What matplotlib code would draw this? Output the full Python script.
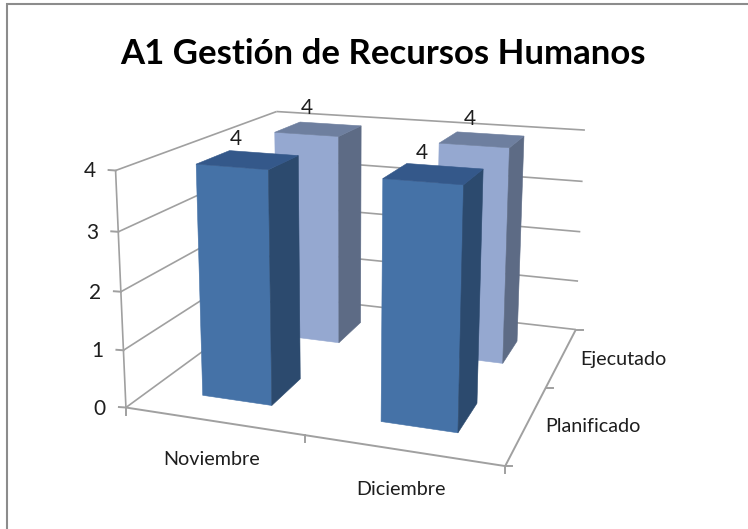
import numpy as np
import matplotlib
matplotlib.use('Agg')
import matplotlib.pyplot as plt
from matplotlib.patches import Polygon

plt.rcParams['font.family'] = ['Lato', 'DejaVu Sans']

title = 'A1 Gestión de Recursos Humanos'
months = ['Noviembre', 'Diciembre']
series = ['Planificado', 'Ejecutado']
planificado = [4, 4]
ejecutado = [4, 4]
z_ticks = [0, 1, 2, 3, 4]

# front, side, top face colors per series
face_colors = {'Planificado': ('#4572A7', '#2C4A6E', '#34588A'),
				'Ejecutado': ('#95A8D0', '#5D6B85', '#6E7F9F')}
grid_color = '#A0A0A0'
text_color = '#1E1E1E'
bar_x = (0.30, 0.70)
bar_y = (0.28, 0.67)

# camera calibration, (month pos, series pos, height) -> chart pixel
calib_world = [(0,0,0),(2,0,0),(2,2,0),(0,2,0),(0,0,4),(0,2,4),(2,2,4),
				(0.3,0.28,4),(0.7,0.28,4),(0.7,0.67,4),(1.3,0.28,4),(1.7,0.28,4),(1.7,0.67,4),
				(0.7,1.28,4),(0.7,1.67,4),(1.7,1.28,4),(1.7,1.67,4),
				(0.3,0.28,0),(0.7,0.28,0),(1.3,0.28,0),(1.7,0.28,0)]
calib_px = [(125,408),(504,466),(576,331),(280,294),(115,171),(275,112),(585,130),
				(197,164),(269,170),(299,156),(383,178),(464,184),(483,169),
				(339,137),(361,126),(509,147),(524,136),
				(203,396),(272,405),(381,421),(458,433)]

def fit_camera(world, px):
	rows = []
	for (x,y,z),(u,v) in zip(world, px):
		rows.append([x,y,z,1,0,0,0,0,-u*x,-u*y,-u*z,-u])
		rows.append([0,0,0,0,x,y,z,1,-v*x,-v*y,-v*z,-v])
	return np.linalg.svd(np.array(rows, dtype=float))[2][-1].reshape(3,4)

cam = fit_camera(calib_world, calib_px)

def project(x, y, z):
	p = cam @ np.array([x,y,z,1.0])
	return p[0]/p[2], p[1]/p[2]

def line3d(ax, a, b, lw=1.2):
	pa, pb = project(*a), project(*b)
	ax.plot([pa[0],pb[0]], [pa[1],pb[1]], color=grid_color, lw=lw, solid_capstyle='butt', zorder=1)

def draw_bar(ax, i, j, value, colors):
	x0, x1 = i+bar_x[0], i+bar_x[1]
	y0, y1 = j+bar_y[0], j+bar_y[1]
	front = [(x0,y0,0),(x1,y0,0),(x1,y0,value),(x0,y0,value)]
	side = [(x1,y0,0),(x1,y1,0),(x1,y1,value),(x1,y0,value)]
	top = [(x0,y0,value),(x1,y0,value),(x1,y1,value),(x0,y1,value)]
	for face, c in zip((front, side, top), colors):
		pts = [project(*p) for p in face]
		ax.add_patch(Polygon(pts, closed=True, fc=c, ec=c, lw=0.4, zorder=3+(1-j)*2))
	lx, ly = project((x0+x1)/2, (y0+y1)/2, value)
	ax.text(lx-12, ly-21, str(value), ha='center', va='center', fontsize=15, color=text_color, zorder=9)

fig = plt.figure(figsize=(7.48, 5.29), dpi=100)
ax = fig.add_axes([0,0,1,1])
ax.set_xlim(0,748)
ax.set_ylim(529,0)
ax.axis('off')

# the frame only shows on the top and left
ax.plot([7,7], [3,529], color='#8C8C8C', lw=1.5, solid_capstyle='butt')
ax.plot([6,748], [4,4], color='#8C8C8C', lw=1.5, solid_capstyle='butt')

# walls and floor
for z in z_ticks:
	line3d(ax, (0,0,z), (0,2,z))
	line3d(ax, (0,2,z), (2,2,z))
	p = project(0,0,z)
	ax.plot([p[0]-7,p[0]], [p[1]-0.5,p[1]], color=grid_color, lw=1.4, zorder=1)
	ax.text(p[0]-20, p[1]+1, str(z), ha='right', va='center', fontsize=15, color=text_color)
line3d(ax, (0,0,0), (0,0,4))
line3d(ax, (0,0,0), (2,0,0), lw=1.4)
line3d(ax, (2,0,0), (2,2,0), lw=1.4)

# ticks on the floor edges
for i in range(len(months)+1):
	p = project(i,0,0)
	ax.plot([p[0],p[0]], [p[1],p[1]+7], color=grid_color, lw=1.4, zorder=1)
for j in range(len(series)+1):
	p = project(2,j,0)
	ax.plot([p[0],p[0]+7], [p[1],p[1]], color=grid_color, lw=1.4, zorder=1)

# back row first so the front row covers it
for j, (name, vals) in reversed(list(enumerate(zip(series, [planificado, ejecutado])))):
	for i, v in enumerate(vals):
		draw_bar(ax, i, j, v, face_colors[name])

# category labels
for i, m in enumerate(months):
	p = project(i+0.5,0,0)
	ax.text(p[0]-1, p[1]+39, m, ha='center', va='center', fontsize=14.2, color=text_color)
for j, s in enumerate(series):
	p = project(2,j+0.5,0)
	ax.text(p[0]+18, p[1]+3, s, ha='left', va='center', fontsize=14.2, color=text_color)

ax.text(383, 54, title, ha='center', va='center', fontsize=25, fontweight='bold', color='black')

fig.savefig('out.png', dpi=100)
